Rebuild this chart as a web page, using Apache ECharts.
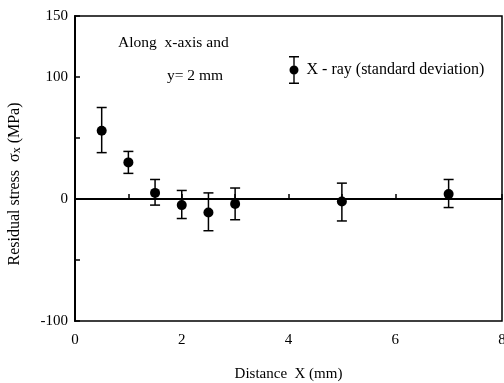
<!DOCTYPE html>
<html>
<head>
<meta charset="utf-8">
<script src="https://cdn.jsdelivr.net/npm/echarts@6/dist/echarts.min.js"></script>
<style>
  html, body { margin: 0; padding: 0; background: #fff; }
  #chart { width: 504px; height: 383px; }
</style>
</head>
<body>
<div id="chart"></div>
<script>
// readings
const distance = [0.5, 1.0, 1.5, 2.0, 2.5, 3.0, 5.0, 7.0];
const stress = [56, 30, 5, -5, -11, -4, -2, 4];
const errLow = [38, 21, -5, -16, -26, -17, -18, -7];
const errHigh = [75, 39, 16, 7, 5, 9, 13, 16];
const xTicks = [0, 2, 4, 6, 8];
const yTicks = [-100, 0, 100, 150];

const serif = '"Liberation Serif", "DejaVu Serif", serif';

const chart = echarts.init(document.getElementById('chart'));

chart.setOption({
  animation: false,
  grid: {
    left: 75, right: 2, top: 16, bottom: 62, outerBoundsMode: 'none', containLabel: false,
    show: true, borderColor: '#000', borderWidth: 1.5
  },
  legend: {
    left: 284, top: 51,
    itemWidth: 11, itemHeight: 28, itemGap: 0,
    icon: 'path://M0,0H10V1.5H0Z M4.3,0H5.7V28H4.3Z M0,26.5H10V28H0Z M0.5,14A4.5,4.5 0 1,1 9.5,14A4.5,4.5 0 1,1 0.5,14Z',
    textStyle: { fontFamily: serif, fontSize: 16, color: '#000', padding: [0, 0, 0, 2] },
    data: ['X - ray (standard deviation)']
  },
  xAxis: {
    type: 'value', min: 0, max: 8, interval: 1,
    name: 'Distance  X (mm)', nameLocation: 'middle', nameGap: 46,
    nameTextStyle: { fontFamily: serif, fontSize: 15, color: '#000' },
    axisLine: { lineStyle: { color: '#000', width: 2 } },
    axisTick: { inside: true, length: 5, lineStyle: { color: '#000', width: 1.5 } },
    axisLabel: {
      margin: 12, fontFamily: serif, fontSize: 15, color: '#000',
      formatter: v => xTicks.includes(v) ? String(v) : ''
    },
    splitLine: { show: false }
  },
  yAxis: {
    type: 'value', min: -100, max: 150, interval: 50,
    axisLine: { show: true, lineStyle: { color: '#000', width: 2 } },
    axisTick: { show: true, inside: true, length: 5, lineStyle: { color: '#000', width: 1.5 } },
    axisLabel: {
      margin: 7, fontFamily: serif, fontSize: 15, color: '#000',
      formatter: v => yTicks.includes(v) ? String(v) : ''
    },
    splitLine: { show: false }
  },
  graphic: [
    { type: 'text', left: 118, top: 35, style: { text: 'Along  x-axis and', font: '15.5px ' + serif, fill: '#000' } },
    { type: 'text', left: 167, top: 68, style: { text: 'y= 2 mm', font: '15.5px ' + serif, fill: '#000' } },
    {
      type: 'text', x: 15, y: 184, rotation: Math.PI / 2,
      style: {
        text: '{a|Residual stress  σ}{s|x}{a| (MPa)}',
        align: 'center', verticalAlign: 'middle',
        rich: {
          a: { fontFamily: serif, fontSize: 16, fill: '#000' },
          s: { fontFamily: serif, fontSize: 12, fill: '#000', padding: [4, 0, 0, 0] }
        }
      }
    }
  ],
  series: [
    {
      type: 'custom',
      name: 'errors',
      data: distance.map((x, i) => [x, errLow[i], errHigh[i]]),
      renderItem: (params, api) => {
        const lo = api.coord([api.value(0), api.value(1)]);
        const hi = api.coord([api.value(0), api.value(2)]);
        const cap = 5;
        const style = { stroke: '#000', lineWidth: 1.5 };
        return {
          type: 'group',
          children: [
            { type: 'line', shape: { x1: lo[0], y1: lo[1], x2: hi[0], y2: hi[1] }, style },
            { type: 'line', shape: { x1: hi[0] - cap, y1: hi[1], x2: hi[0] + cap, y2: hi[1] }, style },
            { type: 'line', shape: { x1: lo[0] - cap, y1: lo[1], x2: lo[0] + cap, y2: lo[1] }, style }
          ]
        };
      },
      z: 3
    },
    {
      type: 'scatter',
      name: 'X - ray (standard deviation)',
      data: distance.map((x, i) => [x, stress[i]]),
      symbol: 'circle', symbolSize: 10,
      itemStyle: { color: '#000', opacity: 1 },
      z: 4,
      markLine: {
        silent: true, symbol: 'none', label: { show: false },
        lineStyle: { color: '#000', width: 1, type: 'solid' },
        data: [{ yAxis: 0 }]
      }
    }
  ]
});
</script>
</body>
</html>
